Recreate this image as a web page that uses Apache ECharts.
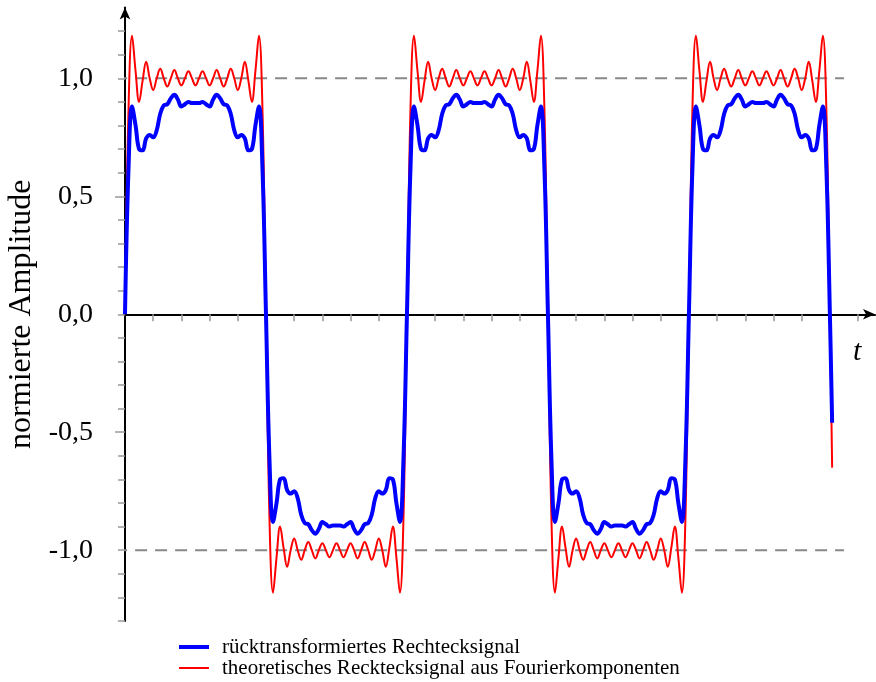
<!DOCTYPE html>
<html>
<head>
<meta charset="utf-8">
<script src="https://cdn.jsdelivr.net/npm/echarts@6/dist/echarts.min.js"></script>
<title>Rechtecksignal</title>
<style>
html, body { margin: 0; padding: 0; background: #fff; }
#main { width: 876px; height: 682px; }
</style>
</head>
<body>
<div id="main"></div>
<script>
// sample times t (x axis), one row per half period
var tValues = [
  0,0.125,0.25,0.375,0.5,0.625,0.75,0.875,1,1.125,1.25,1.375,1.5,1.625,1.75,1.875,2,2.125,2.25,2.375,2.5,2.625,2.75,2.875,3,3.125,3.25,3.375,3.5,3.625,3.75,3.875,4,4.125,4.25,4.375,4.5,4.625,4.75,4.875,5,
  5.125,5.25,5.375,5.5,5.625,5.75,5.875,6,6.125,6.25,6.375,6.5,6.625,6.75,6.875,7,7.125,7.25,7.375,7.5,7.625,7.75,7.875,8,8.125,8.25,8.375,8.5,8.625,8.75,8.875,9,9.125,9.25,9.375,9.5,9.625,9.75,9.875,10,
  10.125,10.25,10.375,10.5,10.625,10.75,10.875,11,11.125,11.25,11.375,11.5,11.625,11.75,11.875,12,12.125,12.25,12.375,12.5,12.625,12.75,12.875,13,13.125,13.25,13.375,13.5,13.625,13.75,13.875,14,14.125,14.25,14.375,14.5,14.625,14.75,14.875,15,
  15.125,15.25,15.375,15.5,15.625,15.75,15.875,16,16.125,16.25,16.375,16.5,16.625,16.75,16.875,17,17.125,17.25,17.375,17.5,17.625,17.75,17.875,18,18.125,18.25,18.375,18.5,18.625,18.75,18.875,19,19.125,19.25,19.375,19.5,19.625,19.75,19.875,20,
  20.125,20.25,20.375,20.5,20.625,20.75,20.875,21,21.125,21.25,21.375,21.5,21.625,21.75,21.875,22,22.125,22.25,22.375,22.5,22.625,22.75,22.875,23,23.125,23.25,23.375,23.5,23.625,23.75,23.875,24,24.125,24.25,24.375,24.5,24.625,24.75,24.875,25,
  25.08
];

// theoretisches Signal (rot)
var redValues = [
  0,0.87,1.18,1.03,0.90,0.99,1.07,1.00,0.95,1.00,1.04,1.00,0.965,1.00,1.035,1.00,0.97,1.00,1.03,1.00,0.97,1.00,1.03,1.00,0.97,1.00,1.035,1.00,0.965,1.00,1.04,1.00,0.95,1.00,1.07,0.99,0.90,1.03,1.18,0.87,0,
  -0.87,-1.18,-1.03,-0.90,-0.99,-1.07,-1.00,-0.95,-1.00,-1.04,-1.00,-0.965,-1.00,-1.035,-1.00,-0.97,-1.00,-1.03,-1.00,-0.97,-1.00,-1.03,-1.00,-0.97,-1.00,-1.035,-1.00,-0.965,-1.00,-1.04,-1.00,-0.95,-1.00,-1.07,-0.99,-0.90,-1.03,-1.18,-0.87,0,
  0.87,1.18,1.03,0.90,0.99,1.07,1.00,0.95,1.00,1.04,1.00,0.965,1.00,1.035,1.00,0.97,1.00,1.03,1.00,0.97,1.00,1.03,1.00,0.97,1.00,1.035,1.00,0.965,1.00,1.04,1.00,0.95,1.00,1.07,0.99,0.90,1.03,1.18,0.87,0,
  -0.87,-1.18,-1.03,-0.90,-0.99,-1.07,-1.00,-0.95,-1.00,-1.04,-1.00,-0.965,-1.00,-1.035,-1.00,-0.97,-1.00,-1.03,-1.00,-0.97,-1.00,-1.03,-1.00,-0.97,-1.00,-1.035,-1.00,-0.965,-1.00,-1.04,-1.00,-0.95,-1.00,-1.07,-0.99,-0.90,-1.03,-1.18,-0.87,0,
  0.87,1.18,1.03,0.90,0.99,1.07,1.00,0.95,1.00,1.04,1.00,0.965,1.00,1.035,1.00,0.97,1.00,1.03,1.00,0.97,1.00,1.03,1.00,0.97,1.00,1.035,1.00,0.965,1.00,1.04,1.00,0.95,1.00,1.07,0.99,0.90,1.03,1.18,0.87,0,
  -0.65
];

// rücktransformiertes Signal (blau)
var blueValues = [
  0,0.62,0.88,0.80,0.70,0.695,0.745,0.76,0.75,0.78,0.85,0.885,0.89,0.915,0.93,0.91,0.88,0.89,0.90,0.895,0.895,0.895,0.90,0.89,0.88,0.91,0.93,0.915,0.89,0.885,0.85,0.78,0.75,0.76,0.745,0.695,0.70,0.80,0.88,0.62,0,
  -0.62,-0.88,-0.80,-0.70,-0.695,-0.745,-0.76,-0.75,-0.78,-0.85,-0.885,-0.89,-0.915,-0.93,-0.91,-0.88,-0.89,-0.90,-0.895,-0.895,-0.895,-0.90,-0.89,-0.88,-0.91,-0.93,-0.915,-0.89,-0.885,-0.85,-0.78,-0.75,-0.76,-0.745,-0.695,-0.70,-0.80,-0.88,-0.62,0,
  0.62,0.88,0.80,0.70,0.695,0.745,0.76,0.75,0.78,0.85,0.885,0.89,0.915,0.93,0.91,0.88,0.89,0.90,0.895,0.895,0.895,0.90,0.89,0.88,0.91,0.93,0.915,0.89,0.885,0.85,0.78,0.75,0.76,0.745,0.695,0.70,0.80,0.88,0.62,0,
  -0.62,-0.88,-0.80,-0.70,-0.695,-0.745,-0.76,-0.75,-0.78,-0.85,-0.885,-0.89,-0.915,-0.93,-0.91,-0.88,-0.89,-0.90,-0.895,-0.895,-0.895,-0.90,-0.89,-0.88,-0.91,-0.93,-0.915,-0.89,-0.885,-0.85,-0.78,-0.75,-0.76,-0.745,-0.695,-0.70,-0.80,-0.88,-0.62,0,
  0.62,0.88,0.80,0.70,0.695,0.745,0.76,0.75,0.78,0.85,0.885,0.89,0.915,0.93,0.91,0.88,0.89,0.90,0.895,0.895,0.895,0.90,0.89,0.88,0.91,0.93,0.915,0.89,0.885,0.85,0.78,0.75,0.76,0.745,0.695,0.70,0.80,0.88,0.62,0,
  -0.46
];

var xTicks = [1,2,3,4,5,6,7,8,9,10,11,12,13,14,15,16,17,18,19,20,21,22,23,24,25,26];
var yTicks = [-1.3,-1.2,-1.1,-1,-0.9,-0.8,-0.7,-0.6,-0.5,-0.4,-0.3,-0.2,-0.1,0,0.1,0.2,0.3,0.4,0.5,0.6,0.7,0.8,0.9,1,1.1,1.2];
var yLabels = [-1, -0.5, 0, 0.5, 1];
var yMajorTicks = [-0.5, 0.5];
var refLevels = [1, -1];
var refRange = [-0.35, 25.5];

var blueName = 'rücktransformiertes Rechtecksignal';
var redName = 'theoretisches Recktecksignal aus Fourierkomponenten';
var serif = 'Liberation Serif';

function pairs(ys) {
  return tValues.map(function (t, i) { return [t, ys[i]]; });
}

var myChart = echarts.init(document.getElementById('main'));

var refSeries = refLevels.map(function (lv) {
  return {
    name: 'ref' + lv,
    type: 'line',
    data: [[refRange[0], lv], [refRange[1], lv]],
    symbol: 'none',
    clip: false,
    silent: true,
    z: 1,
    lineStyle: { color: '#888', width: 2, type: [12, 8] }
  };
});

var option = {
  animation: false,
  grid: { left: 125, right: 1, top: 7.5, bottom: 61, containLabel: false, outerBoundsMode: 'none' },
  legend: {
    data: [blueName, redName],
    orient: 'vertical',
    left: 177,
    top: 636.5,
    padding: 0,
    itemWidth: 30,
    itemHeight: 14,
    itemGap: 0,
    itemStyle: { opacity: 0 },
    lineStyle: { width: 'inherit' },
    textStyle: { fontFamily: serif, fontSize: 21, color: '#000', lineHeight: 21, padding: [0, 0, 0, 8] }
  },
  xAxis: [{
    type: 'value', min: 0, max: 26.6, interval: 1,
    axisLine: { onZero: true, onZeroAxisIndex: 0, lineStyle: { color: '#000', width: 2 },
      symbol: ['none', 'arrow'], symbolSize: [8, 12] },
    axisTick: { length: 7, customValues: xTicks, lineStyle: { color: '#999', width: 1.5 } },
    axisLabel: { show: false },
    splitLine: { show: false },
    name: 't', nameLocation: 'end', nameGap: -22,
    nameTextStyle: { fontFamily: serif, fontStyle: 'italic', fontSize: 30, color: '#000',
      align: 'left', verticalAlign: 'top', lineHeight: 30, padding: [23, 0, 0, 0] }
  }, {
    type: 'value', min: 0, max: 26.6, interval: 1,
    axisLine: { show: false, onZero: true, onZeroAxisIndex: 0 },
    axisTick: { inside: true, length: 7, customValues: xTicks, lineStyle: { color: '#999', width: 1.5 } },
    axisLabel: { show: false },
    splitLine: { show: false }
  }],
  yAxis: [{
    type: 'value', min: -1.3, max: 1.3, interval: 0.1, position: 'left',
    axisLine: { onZero: false, lineStyle: { color: '#000', width: 2 },
      symbol: ['none', 'arrow'], symbolSize: [8, 12] },
    axisTick: { length: 7, customValues: yTicks, lineStyle: { color: '#999', width: 1.5 } },
    axisLabel: {
      margin: 32, fontFamily: serif, fontSize: 28, color: '#000',
      customValues: yLabels,
      formatter: function (v) {
        if (Math.abs(v * 2 - Math.round(v * 2)) > 1e-6) return '';
        if (Math.abs(v) > 1.05) return '';
        return v.toFixed(1).replace('.', ',');
      }
    },
    splitLine: { show: false },
    name: 'normierte Amplitude', nameLocation: 'middle', nameGap: 84,
    nameTextStyle: { fontFamily: serif, fontSize: 32, color: '#000' }
  }, {
    type: 'value', min: -1.3, max: 1.3, interval: 0.1, position: 'left',
    axisLine: { show: false, onZero: false },
    axisTick: { length: 10, customValues: yMajorTicks, lineStyle: { color: '#999', width: 1.5 } },
    axisLabel: { show: false },
    splitLine: { show: false }
  }],
  series: refSeries.concat([{
    name: redName,
    type: 'line',
    data: pairs(redValues),
    symbol: 'none',
    smooth: 0.4,
    z: 3,
    color: '#ff0000',
    lineStyle: { color: '#ff0000', width: 2 }
  }, {
    name: blueName,
    type: 'line',
    data: pairs(blueValues),
    symbol: 'none',
    smooth: 0.4,
    z: 4,
    color: '#0000ff',
    lineStyle: { color: '#0000ff', width: 4 }
  }])
};

myChart.setOption(option);
</script>
</body>
</html>
